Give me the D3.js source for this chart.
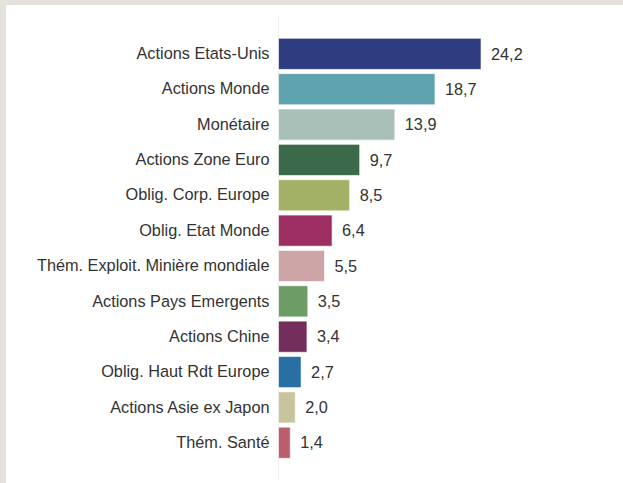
<!DOCTYPE html>
<html><head><meta charset="utf-8">
<script src="https://cdn.jsdelivr.net/npm/d3@7"></script>
<style>
html,body{margin:0;padding:0;background:#e5e1dc;}
svg{display:block;}
</style></head>
<body>
<svg id="c" width="623" height="483"></svg>
<script>
const categories = ["Actions Etats-Unis","Actions Monde","Monétaire","Actions Zone Euro","Oblig. Corp. Europe","Oblig. Etat Monde","Thém. Exploit. Minière mondiale","Actions Pays Emergents","Actions Chine","Oblig. Haut Rdt Europe","Actions Asie ex Japon","Thém. Santé"];
const values = [24.2,18.7,13.9,9.7,8.5,6.4,5.5,3.5,3.4,2.7,2.0,1.4];
const colors = ["#2e3c80","#5fa3af","#a9c0b8","#3b6a4a","#a2b165","#9c2e61","#cea5a7","#6d9c66","#742e5c","#286fa3","#c8c59e","#bc5d6d"];

const svg = d3.select("#c");
svg.append("rect").attr("x",6).attr("y",5).attr("width",617).attr("height",478).attr("fill","#ffffff");

const x0 = 278.5;
const x = d3.scaleLinear().domain([0, 24.2]).range([x0, 481]);
const y = d3.scaleBand().domain(categories).range([20.6, 476]).paddingInner(0.12).paddingOuter(0.5);

svg.append("line").attr("x1",x0).attr("x2",x0).attr("y1",17).attr("y2",479)
  .attr("stroke","#efefef").attr("stroke-width",1);

const data = categories.map((c,i)=>({c, v: values[i], col: colors[i]}));

svg.selectAll("rect.bar").data(data).join("rect").attr("class","bar")
  .attr("x", x(0)).attr("y", d=>y(d.c))
  .attr("width", d=>x(d.v)-x(0)).attr("height", y.bandwidth())
  .attr("fill", d=>d.col).attr("stroke","#ffffff").attr("stroke-opacity",0.6).attr("stroke-width",1);

const yAxis = d3.axisLeft(y).tickSize(0).tickPadding(9);
const g = svg.append("g").attr("transform",`translate(${x0},0)`).call(yAxis);
g.select(".domain").remove();
g.selectAll("text").attr("font-family","'Liberation Sans', Arial, sans-serif").attr("font-size","16.3px").attr("fill","#333333");

svg.selectAll("text.val").data(data).join("text").attr("class","val")
  .attr("x", d=>x(d.v)+10).attr("y", d=>y(d.c)+y.bandwidth()/2)
  .attr("dy","0.35em")
  .attr("font-family","'Liberation Sans', Arial, sans-serif").attr("font-size","16.3px").attr("fill","#333333")
  .text(d=>d3.format(".1f")(d.v).replace(".",","));
</script>
</body></html>
